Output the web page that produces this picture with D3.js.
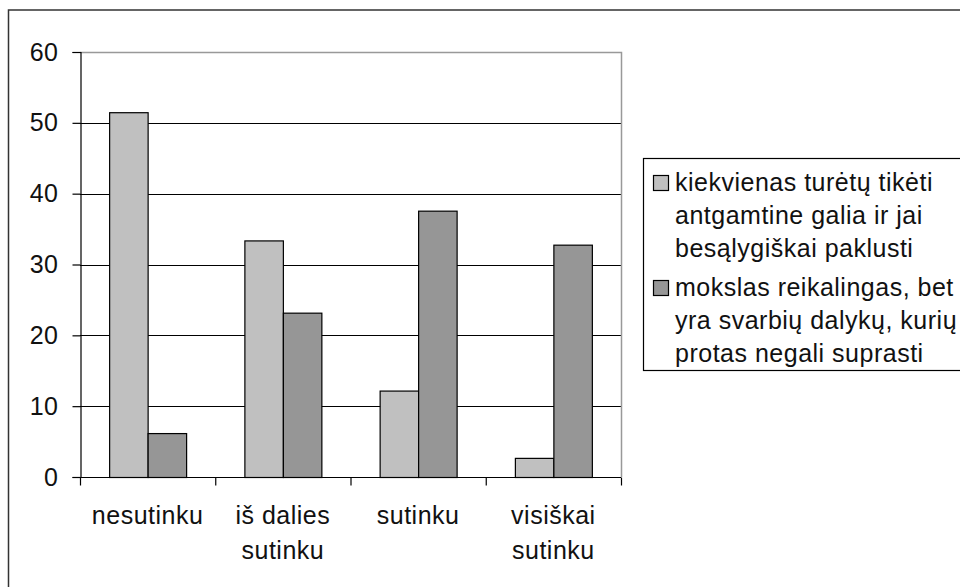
<!DOCTYPE html>
<html>
<head>
<meta charset="utf-8">
<script src="https://cdn.jsdelivr.net/npm/d3@7"></script>
<style>
  body { margin: 0; background: #fff; }
  svg { display: block; font-family: Arial, "Liberation Sans", sans-serif; }
  text { letter-spacing: 0.5px; }
</style>
</head>
<body>
<svg width="960" height="587"></svg>
<script>
// duomenys
const categories = [["nesutinku"], ["iš dalies", "sutinku"], ["sutinku"], ["visiškai", "sutinku"]];
const seriesNames = [
  ["kiekvienas turėtų tikėti", "antgamtine galia ir jai", "besąlygiškai paklusti"],
  ["mokslas reikalingas, bet", "yra svarbių dalykų, kurių", "protas negali suprasti"]
];
const seriesA = [51.5, 33.4, 12.2, 2.7];
const seriesB = [6.2, 23.2, 37.6, 32.8];
const yTicks = [0, 10, 20, 30, 40, 50, 60];
const colors = ["#c0c0c0", "#969696"];

const svg = d3.select("svg");
const fontSize = 25;

// outer frame (cut off on the right and bottom like the original)
svg.append("rect")
  .attr("x", 8.5).attr("y", 10)
  .attr("width", 1000).attr("height", 1000)
  .attr("fill", "#fff")
  .attr("stroke", "#333").attr("stroke-width", 1.5);

const plot = { left: 80, right: 621, top: 52, bottom: 477 };

const y = d3.scaleLinear().domain([0, 60]).range([plot.bottom, plot.top]);
const x0 = d3.scaleBand().domain(d3.range(categories.length)).range([plot.left, plot.right]).padding(0);
const x1 = d3.scaleBand().domain([0, 1]).range([0, x0.bandwidth()]).paddingInner(0).paddingOuter(0.757);

// gridlines
svg.append("g")
  .selectAll("line")
  .data(yTicks.filter(d => d > 0 && d < 60))
  .join("line")
  .attr("x1", plot.left).attr("x2", plot.right)
  .attr("y1", d => Math.round(y(d)) + 0.5).attr("y2", d => Math.round(y(d)) + 0.5)
  .attr("stroke", "#000").attr("stroke-width", 1);

// plot area border top + right (grau)
svg.append("path")
  .attr("d", `M${plot.left},${plot.top + 0.5}H${plot.right + 0.5}V${plot.bottom}`)
  .attr("fill", "none").attr("stroke", "#999").attr("stroke-width", 1.5);

// bars
const data = categories.map((c, i) => [seriesA[i], seriesB[i]]);
const groups = svg.append("g")
  .selectAll("g")
  .data(data)
  .join("g")
  .attr("transform", (d, i) => `translate(${x0(i)},0)`);

groups.selectAll("rect")
  .data(d => d.map((v, s) => ({ v, s })))
  .join("rect")
  .attr("x", d => x1(d.s) + 0.5)
  .attr("y", d => y(d.v) + 0.5)
  .attr("width", x1.bandwidth())
  .attr("height", d => y(0) - y(d.v))
  .attr("fill", d => colors[d.s])
  .attr("stroke", "#000").attr("stroke-width", 1.2);

// y axis
const yAxis = svg.append("g")
  .attr("transform", `translate(${plot.left + 0.5},0)`)
  .call(d3.axisLeft(y).tickValues(yTicks).tickSize(8).tickPadding(14));
yAxis.select(".domain").attr("stroke", "#000").attr("stroke-width", 1.2);
yAxis.selectAll(".tick line").attr("stroke", "#000").attr("stroke-width", 1.2);
yAxis.selectAll(".tick text")
  .attr("font-size", fontSize).attr("font-family", "Arial, 'Liberation Sans', sans-serif")
  .attr("fill", "#111");

// x axis
const xTickScale = d3.scaleLinear().domain([0, categories.length]).range([plot.left, plot.right]);
const xAxis = svg.append("g")
  .attr("transform", `translate(0,${plot.bottom + 0.5})`)
  .call(d3.axisBottom(xTickScale).ticks(4).tickSize(8).tickFormat(""));
xAxis.select(".domain").attr("stroke", "#000").attr("stroke-width", 1.2)
  .attr("d", `M${plot.left},0H${plot.right}`);
xAxis.selectAll(".tick line").attr("stroke", "#000").attr("stroke-width", 1.2);

// category labels
svg.append("g")
  .selectAll("text")
  .data(categories)
  .join("text")
  .attr("x", (d, i) => x0(i) + x0.bandwidth() / 2)
  .attr("y", 524)
  .attr("text-anchor", "middle")
  .attr("font-size", fontSize)
  .attr("fill", "#111")
  .selectAll("tspan")
  .data(d => d)
  .join("tspan")
  .attr("x", function() { return this.parentNode.getAttribute("x"); })
  .attr("dy", (d, i) => i === 0 ? 0 : 35)
  .text(d => d);

// legend
const legend = svg.append("g");
legend.append("rect")
  .attr("x", 643.5).attr("y", 158.5)
  .attr("width", 400).attr("height", 212)
  .attr("fill", "#fff").attr("stroke", "#000").attr("stroke-width", 1.2);

const legendTop = [191, 296];
const lineH = 33;
seriesNames.forEach((lines, s) => {
  legend.append("rect")
    .attr("x", 653.5).attr("y", legendTop[s] - 15.5)
    .attr("width", 15).attr("height", 15)
    .attr("fill", colors[s]).attr("stroke", "#000").attr("stroke-width", 1.2);
  legend.append("text")
    .attr("font-size", fontSize).attr("fill", "#111")
    .selectAll("tspan")
    .data(lines)
    .join("tspan")
    .attr("x", 675)
    .attr("y", (d, i) => legendTop[s] + i * lineH)
    .text(d => d);
});
</script>
</body>
</html>
